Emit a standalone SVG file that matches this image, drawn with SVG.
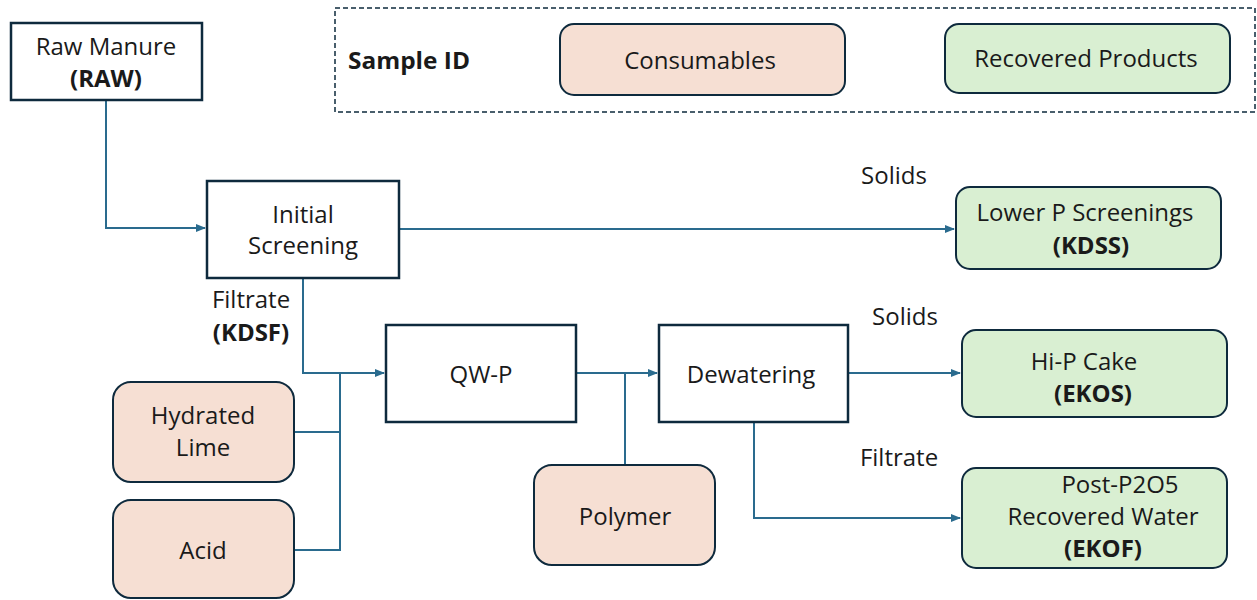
<svg xmlns="http://www.w3.org/2000/svg" width="1257" height="600" viewBox="0 0 1257 600">
<style>
.box{fill:#fff;stroke:#0e2a3d;stroke-width:2.5}
.cons{fill:#f6dfd3;stroke:#0e2a3d;stroke-width:2}
.rec{fill:#d9efd2;stroke:#0e2a3d;stroke-width:2}
.t{font-family:"Open Sans","Noto Sans",sans-serif;font-size:24px;fill:#1a1a1a;text-anchor:middle}
.b{font-weight:bold}
.c{fill:none;stroke:#2a6b8e;stroke-width:2}
</style>
<defs>
<marker id="ah" markerWidth="10" markerHeight="8" refX="9" refY="4" orient="auto" markerUnits="userSpaceOnUse">
<path d="M0,0 L10,4 L0,8 z" fill="#2a6b8e"/>
</marker>
</defs>
<g id="legend">
<rect x="335" y="8" width="920" height="104" fill="none" stroke="#0e2a3d" stroke-width="1.5" stroke-dasharray="5,3"/>
<text x="348" y="69" class="t b" style="text-anchor:start;font-size:23px" textLength="122" lengthAdjust="spacingAndGlyphs">Sample ID</text>
<g id="legend-consumables"><rect x="560" y="24" width="285" height="71" rx="14" class="cons"/><text x="700" y="69" class="t">Consumables</text></g>
<g id="legend-recovered"><rect x="945" y="24" width="285" height="69" rx="14" class="rec"/><text x="1086" y="67" class="t">Recovered Products</text></g>
</g>
<g id="connectors">
<polyline class="c" points="106,100 106,228 205,228" marker-end="url(#ah)"/>
<line class="c" x1="399" y1="229" x2="954" y2="229" marker-end="url(#ah)"/>
<polyline class="c" points="303,278 303,373 384,373" marker-end="url(#ah)"/>
<polyline class="c" points="294,432 340,432"/>
<polyline class="c" points="294,550 340,550 340,373"/>
<line class="c" x1="576" y1="373" x2="657" y2="373" marker-end="url(#ah)"/>
<line class="c" x1="625" y1="465" x2="625" y2="373"/>
<line class="c" x1="848" y1="373" x2="960" y2="373" marker-end="url(#ah)"/>
<polyline class="c" points="754,422 754,518 960,518" marker-end="url(#ah)"/>
</g>
<g id="labels">
<text x="894" y="184" class="t">Solids</text>
<text x="251" y="308" class="t">Filtrate</text>
<text x="251" y="341" class="t b">(KDSF)</text>
<text x="905" y="325" class="t">Solids</text>
<text x="899" y="466" class="t">Filtrate</text>
</g>
<g id="raw"><rect x="11" y="23" width="191" height="77" class="box"/><text x="106" y="55" class="t">Raw Manure</text><text x="106" y="87" class="t b">(RAW)</text></g>
<g id="screening"><rect x="207" y="181" width="192" height="97" class="box"/><text x="303" y="223" class="t">Initial</text><text x="303" y="254" class="t">Screening</text></g>
<g id="kdss"><rect x="956" y="187" width="265" height="82" rx="14" class="rec"/><text x="1085" y="221" class="t">Lower P Screenings</text><text x="1091" y="254" class="t b">(KDSS)</text></g>
<g id="qwp"><rect x="386" y="325" width="190" height="97" class="box"/><text x="481" y="383" class="t">QW-P</text></g>
<g id="dewatering"><rect x="659" y="325" width="189" height="97" class="box"/><text x="751" y="383" class="t">Dewatering</text></g>
<g id="lime"><rect x="113" y="382" width="181" height="100" rx="18" class="cons"/><text x="203" y="424" class="t">Hydrated</text><text x="203" y="456" class="t">Lime</text></g>
<g id="acid"><rect x="113" y="500" width="181" height="98" rx="18" class="cons"/><text x="203" y="559" class="t">Acid</text></g>
<g id="polymer"><rect x="534" y="465" width="181" height="100" rx="18" class="cons"/><text x="625" y="525" class="t">Polymer</text></g>
<g id="ekos"><rect x="962" y="330" width="265" height="87" rx="14" class="rec"/><text x="1084" y="370" class="t">Hi-P Cake</text><text x="1093" y="402" class="t b">(EKOS)</text></g>
<g id="ekof"><rect x="962" y="468" width="265" height="100" rx="14" class="rec"/><text x="1120" y="493" class="t">Post-P2O5</text><text x="1103" y="525" class="t">Recovered Water</text><text x="1103" y="557" class="t b">(EKOF)</text></g>
</svg>
